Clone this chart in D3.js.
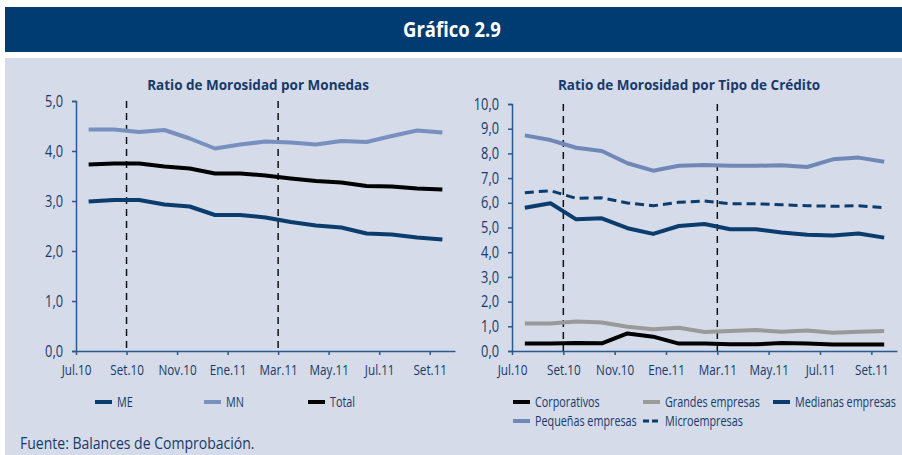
<!DOCTYPE html>
<html><head><meta charset="utf-8">
<script src="https://cdn.jsdelivr.net/npm/d3@7"></script>
<style>
html,body{margin:0;padding:0;background:#fff;}
svg{display:block;}
text{font-family:"Open Sans","Noto Sans",sans-serif;}
</style></head>
<body>
<svg id="c" width="902" height="455"></svg>
<script>
const months = ["Jul.10","Ago.10","Set.10","Oct.10","Nov.10","Dic.10","Ene.11","Feb.11","Mar.11","Abr.11","May.11","Jun.11","Jul.11","Ago.11","Set.11"];
const tickLabels = ["Jul.10","Set.10","Nov.10","Ene.11","Mar.11","May.11","Jul.11","Set.11"];
const markerMonths = ["Set.10","Mar.11"];

// Ratio de Morosidad por Monedas
const me    = [2.99,3.02,3.02,2.93,2.89,2.72,2.72,2.67,2.58,2.51,2.47,2.35,2.33,2.27,2.23];
const mn    = [4.43,4.43,4.38,4.42,4.25,4.05,4.13,4.19,4.17,4.13,4.20,4.18,4.30,4.41,4.37];
const total = [3.73,3.75,3.75,3.69,3.65,3.55,3.55,3.51,3.45,3.40,3.37,3.30,3.29,3.25,3.23];

// Ratio de Morosidad por Tipo de Crédito
const corporativos = [0.30,0.30,0.32,0.31,0.71,0.58,0.30,0.30,0.27,0.27,0.32,0.30,0.26,0.26,0.26];
const grandes      = [1.11,1.11,1.19,1.15,0.98,0.88,0.94,0.77,0.81,0.85,0.78,0.83,0.74,0.78,0.81];
const medianas     = [5.80,5.98,5.33,5.37,4.97,4.74,5.06,5.14,4.93,4.93,4.80,4.71,4.68,4.76,4.59];
const pequenas     = [8.73,8.54,8.23,8.10,7.60,7.30,7.50,7.53,7.50,7.50,7.52,7.45,7.76,7.83,7.66];
const micro        = [6.41,6.49,6.18,6.20,5.99,5.88,6.02,6.07,5.96,5.96,5.92,5.88,5.86,5.88,5.80];

const leftTicks  = [0,1,2,3,4,5];
const rightTicks = [0,1,2,3,4,5,6,7,8,9,10];

const NAVY = "#003c71", AXIS = "#2a5a8f", TXT = "#173a6a";
const svg = d3.select("#c");

// squeeze text horizontally (about its anchor point) to imitate the condensed typeface
function condense(sel, k){
  sel.each(function(){
    const X = +(this.getAttribute("x") || 0);
    d3.select(this).attr("transform", `translate(${X*(1-k)},0) scale(${k},1)`);
  });
}

// title bar + panel
svg.append("rect").attr("x",5).attr("y",7).attr("width",897).attr("height",45).attr("fill",NAVY);
svg.append("text").attr("x",452).attr("y",37).attr("text-anchor","middle").attr("fill","#fff")
  .attr("font-size",21).attr("font-weight","bold").text("Gráfico 2.9").call(condense,0.88);
svg.append("rect").attr("x",5).attr("y",58).attr("width",897).attr("height",397).attr("fill","#d5dbe8");

const fmt = v => d3.format(".1f")(v).replace(".",",");

function panel(cfg){
  const x = d3.scaleLinear().domain([0, months.length]).range([cfg.x0, cfg.x1]);
  const y = d3.scaleLinear().domain([0, cfg.ymax]).range([351, cfg.ytop]);
  const g = svg.append("g");
  g.append("text").attr("x",cfg.tx).attr("y",90).attr("text-anchor","middle").attr("fill",TXT)
    .attr("font-size",15).attr("font-weight","bold").text(cfg.title).call(condense,0.9);
  // y axis
  const ya = g.append("g").attr("transform",`translate(${cfg.x0},0)`)
    .call(d3.axisLeft(y).tickValues(cfg.ticks).tickFormat(fmt).tickSize(4).tickPadding(9));
  ya.select(".domain").attr("stroke",AXIS).attr("stroke-width",1.5);
  ya.selectAll(".tick line").attr("stroke",AXIS).attr("stroke-width",1.5);
  ya.selectAll("text").attr("fill",TXT).attr("font-size",16).attr("font-family",'"Open Sans",sans-serif')
    .call(condense,0.8);
  // x axis
  const tickIdx = tickLabels.map(l => months.indexOf(l));
  const xa = g.append("g").attr("transform","translate(0,351)")
    .call(d3.axisBottom(x).tickValues(tickIdx).tickFormat(i => months[i]).tickSizeInner(4).tickSizeOuter(0).tickPadding(9));
  xa.select(".domain").attr("stroke",AXIS).attr("stroke-width",1.5);
  xa.selectAll(".tick line").attr("stroke",AXIS).attr("stroke-width",1.5);
  xa.selectAll("text").attr("fill",TXT).attr("font-size",15).attr("font-family",'"Open Sans",sans-serif')
    .call(condense,0.78);
  // marker lines
  markerMonths.forEach(m => {
    const xi = x(months.indexOf(m));
    g.append("line").attr("x1",xi).attr("x2",xi).attr("y1",cfg.ytop).attr("y2",351)
      .attr("stroke","#111").attr("stroke-width",1.5).attr("stroke-dasharray","7,5");
  });
  const line = d3.line().x((d,i)=>x(i+0.5)).y(d=>y(d));
  cfg.series.forEach(s => {
    g.append("path").datum(s.data).attr("d",line).attr("fill","none").attr("stroke",s.color)
      .attr("stroke-width",s.w||4).attr("stroke-dasharray",s.dash||null).attr("stroke-linejoin","round");
  });
  // legend
  cfg.series.forEach(s => {
    const lg = s.leg;
    g.append("line").attr("x1",lg[0]).attr("x2",lg[0]+17).attr("y1",lg[1]).attr("y2",lg[1])
      .attr("stroke",s.color).attr("stroke-width",s.w||4).attr("stroke-dasharray",s.dash?"6,3":null);
    g.append("text").attr("x",lg[0]+22).attr("y",lg[1]+5).attr("fill",TXT).attr("font-size",15).text(s.name)
      .call(condense,0.72);
  });
}

panel({x0:76,x1:455,ytop:101,ymax:5,ticks:leftTicks,tx:258,title:"Ratio de Morosidad por Monedas",
  series:[
    {name:"ME",data:me,color:"#0a3c6e",leg:[95,402]},
    {name:"MN",data:mn,color:"#7790bf",leg:[204,402]},
    {name:"Total",data:total,color:"#000",leg:[308,402]}
  ]});

panel({x0:512,x1:897,ytop:104,ymax:10,ticks:rightTicks,tx:689,title:"Ratio de Morosidad por Tipo de Crédito",
  series:[
    {name:"Corporativos",data:corporativos,color:"#000",leg:[513,402]},
    {name:"Grandes empresas",data:grandes,color:"#9a9a9a",leg:[643,402]},
    {name:"Medianas empresas",data:medianas,color:"#0a3c6e",leg:[773,402]},
    {name:"Pequeñas empresas",data:pequenas,color:"#7088b8",leg:[513,421]},
    {name:"Microempresas",data:micro,color:"#0a3c6e",w:3,dash:"9,5",leg:[643,421]}
  ]});

svg.append("text").attr("x",20).attr("y",449).attr("fill",TXT).attr("font-size",16.5)
  .text("Fuente: Balances de Comprobación.").call(condense,0.85);
</script>
</body></html>
